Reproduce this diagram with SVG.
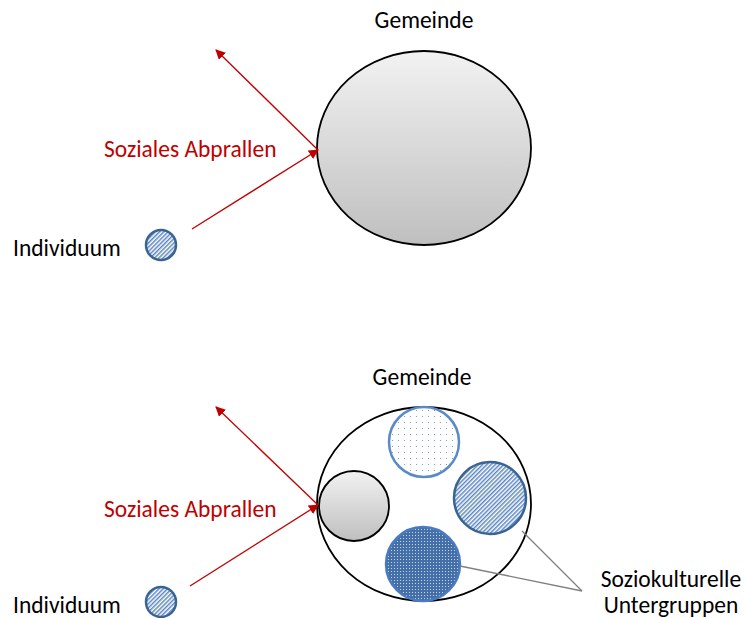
<svg xmlns="http://www.w3.org/2000/svg" width="745" height="618" viewBox="0 0 745 618">
<style>
.lbl{font-family:"Carlito","Liberation Sans",Arial,sans-serif;font-size:23.5px;fill:#000}
.red{fill:#c00000}
.arrow{stroke:#c00000;stroke-width:1.3;fill:none;marker-end:url(#ah)}
.grey{fill:url(#gg);stroke:#000;stroke-width:1.8}
.hatch{fill:url(#ph);stroke:#3a6496;stroke-width:2.5}
.lead{stroke:#808080;stroke-width:1.3;fill:none}
</style>
<defs>
<linearGradient id="gg" x1="0" y1="0" x2="0" y2="1">
<stop offset="0" stop-color="#f2f2f2"/><stop offset="1" stop-color="#bfbfbf"/>
</linearGradient>
<pattern id="ph" width="3" height="3" patternUnits="userSpaceOnUse" patternTransform="rotate(45)">
<rect width="3" height="3" fill="#ffffff"/><rect width="1.5" height="3" fill="#5b86c0"/>
</pattern>
<pattern id="pd" width="6" height="6" patternUnits="userSpaceOnUse">
<rect width="6" height="6" fill="#ffffff"/><rect x="2" y="2" width="1" height="1" fill="#7a9fd0"/>
</pattern>
<pattern id="pdd" width="3" height="3" patternUnits="userSpaceOnUse">
<rect width="3" height="3" fill="#456fa8"/><rect x="1" y="1" width="1" height="1" fill="#c8d6ea"/>
</pattern>
<marker id="ah" viewBox="0 0 10 10" refX="9" refY="5" markerWidth="10" markerHeight="10" markerUnits="userSpaceOnUse" orient="auto">
<path d="M0,0 L10,5 L0,10 z" fill="#c00000"/>
</marker>
</defs>
<g id="top-gemeinde">
<ellipse class="grey" cx="424" cy="148" rx="107" ry="97"/>
<text class="lbl" x="424" y="28" text-anchor="middle">Gemeinde</text>
</g>
<g id="top-individuum">
<circle class="hatch" cx="161" cy="245" r="15"/>
<text class="lbl" x="13" y="256">Individuum</text>
</g>
<g id="top-label">
<text class="lbl red" x="104" y="157">Soziales Abprallen</text>
</g>
<g id="bottom-gemeinde">
<ellipse fill="#fff" stroke="#000" stroke-width="1.8" cx="424" cy="504" rx="107" ry="97"/>
<text class="lbl" x="422" y="385" text-anchor="middle">Gemeinde</text>
</g>
<g id="sub-dotted"><circle cx="424" cy="442" r="35" fill="url(#pd)" stroke="#5b8ac8" stroke-width="2.5"/></g>
<g id="sub-hatched"><circle class="hatch" cx="490" cy="498" r="36"/></g>
<g id="sub-grey"><circle class="grey" cx="354" cy="506" r="35"/></g>
<g id="sub-dark"><circle cx="423" cy="564" r="37" fill="url(#pdd)" stroke="#4a7abf" stroke-width="2.5"/></g>
<g id="bottom-individuum">
<circle class="hatch" cx="161" cy="602" r="15"/>
<text class="lbl" x="13" y="613">Individuum</text>
</g>
<g id="bottom-label">
<text class="lbl red" x="104" y="517">Soziales Abprallen</text>
</g>
<g id="untergruppen-label">
<text class="lbl" x="671" y="587" text-anchor="middle">Soziokulturelle</text>
<text class="lbl" x="671" y="613" text-anchor="middle">Untergruppen</text>
</g>
<g id="connectors">
<line class="arrow" x1="192" y1="229" x2="318" y2="150"/>
<line class="arrow" x1="318" y1="150" x2="216" y2="50"/>
<line class="arrow" x1="190" y1="586" x2="318" y2="505"/>
<line class="arrow" x1="318" y1="505" x2="216" y2="407"/>
<line class="lead" x1="582" y1="591" x2="522" y2="531"/>
<line class="lead" x1="582" y1="591" x2="460" y2="566"/>
</g>
</svg>
